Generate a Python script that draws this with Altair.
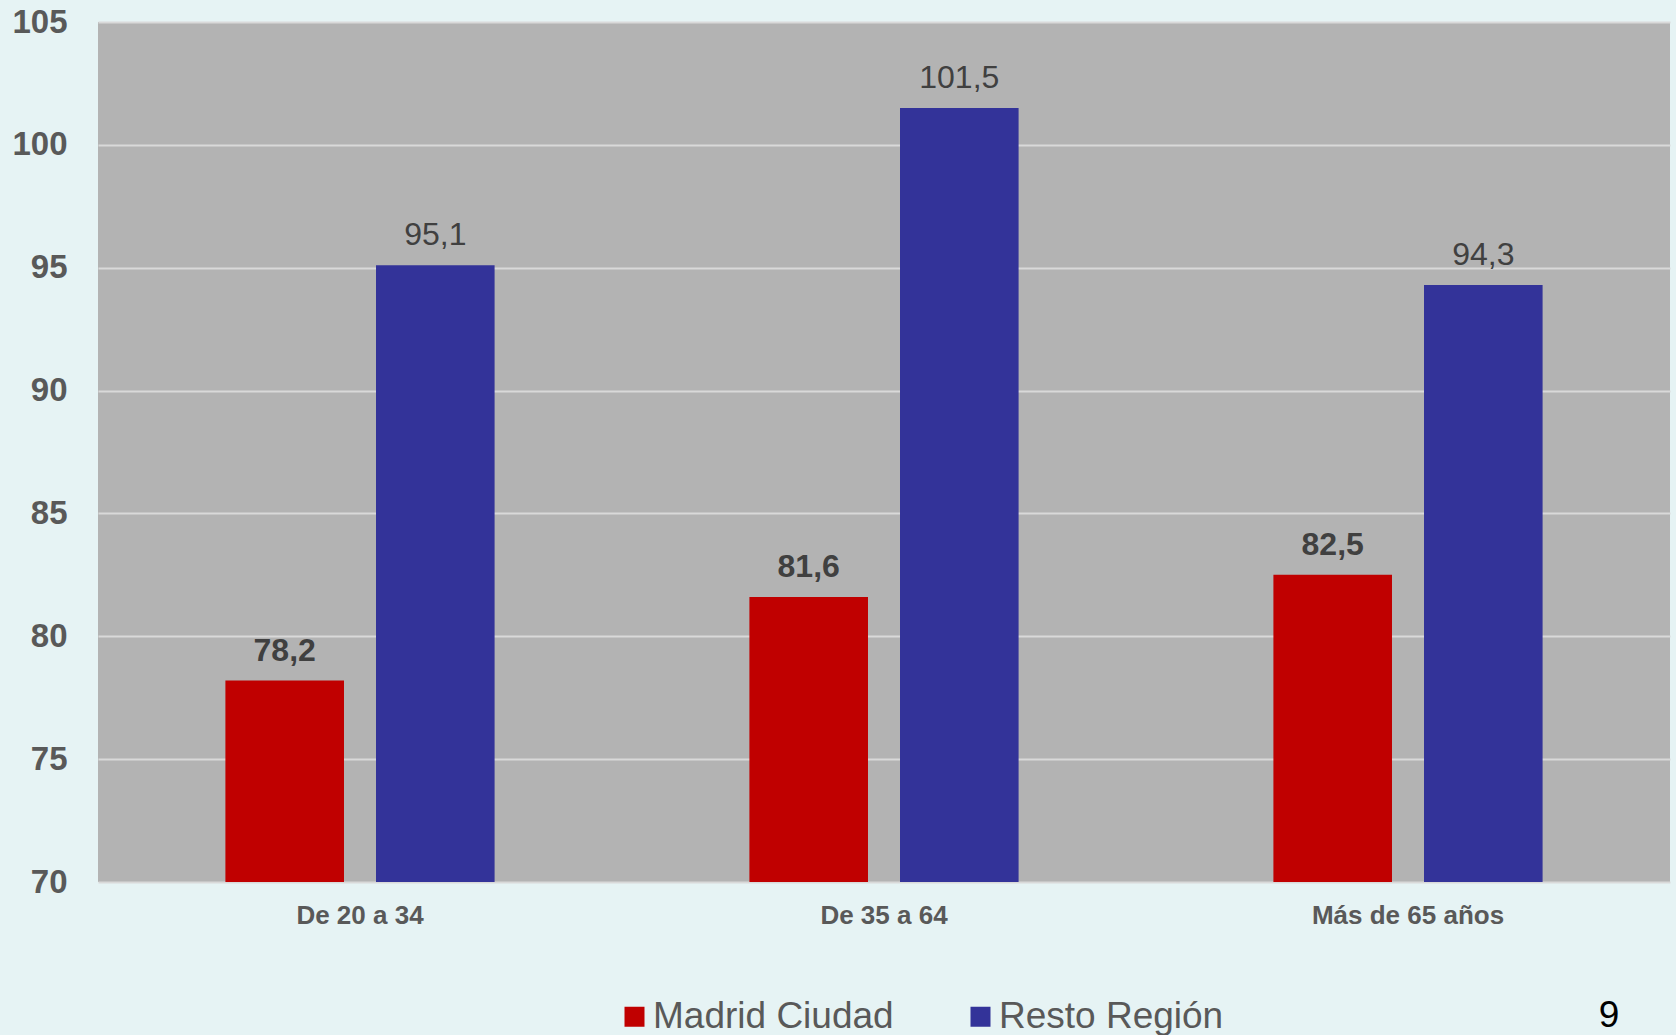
import altair as alt
import pandas as pd

categories = ["De 20 a 34", "De 35 a 64", "Más de 65 años"]
series_names = ["Madrid Ciudad", "Resto Región"]
madrid_values = [78.2, 81.6, 82.5]
resto_values = [95.1, 101.5, 94.3]
y_ticks = [70, 75, 80, 85, 90, 95, 100, 105]
series_colors = ["#C00000", "#333399"]
page_number = "9"

rows = []
for name, vals in zip(series_names, [madrid_values, resto_values]):
    for c, v in zip(categories, vals):
        rows.append({"cat": c, "serie": name, "valor": v,
                     "etiqueta": f"{v:.1f}".replace(".", ",")})
df = pd.DataFrame(rows)

FONT = "Liberation Sans"

x_enc = alt.X("cat:N", sort=categories,
              scale=alt.Scale(paddingInner=0, paddingOuter=0),
              axis=alt.Axis(title=None, labelAngle=0, labelFontSize=26,
                            labelFontWeight="bold", labelColor="#595959",
                            labelFont=FONT, ticks=False, domain=False,
                            labelPadding=20, grid=False, labelLimit=500))
xo_enc = alt.XOffset("serie:N", sort=series_names,
                     scale=alt.Scale(paddingInner=0.2125, paddingOuter=0.846))
y_scale = alt.Scale(domain=[70, 105], zero=False, nice=False)

bars = alt.Chart(df).mark_bar(clip=True).encode(
    x=x_enc,
    xOffset=xo_enc,
    y=alt.Y("valor:Q", scale=y_scale,
            axis=alt.Axis(title=None, values=y_ticks, labelFontSize=33,
                          labelFontWeight="bold", labelColor="#595959",
                          labelFont=FONT, ticks=False, domain=False,
                          labelPadding=31, gridColor="#D9D9D9",
                          gridWidth=2, gridOpacity=1)),
    color=alt.Color("serie:N", sort=series_names,
                    scale=alt.Scale(domain=series_names, range=series_colors),
                    legend=alt.Legend(title=None, orient="none", legendX=518,
                                      legendY=976, direction="horizontal",
                                      symbolType="square", symbolSize=400,
                                      symbolStrokeWidth=0, labelFontSize=37,
                                      labelFont=FONT, labelColor="#595959",
                                      columnPadding=68, labelOffset=0,
                                      labelLimit=400)),
)

def labels(serie, weight):
    return alt.Chart(df).transform_filter(
        alt.datum.serie == serie
    ).mark_text(baseline="alphabetic", dy=-20, fontSize=32, font=FONT,
                fontWeight=weight, color="#404040").encode(
        x=alt.X("cat:N", sort=categories),
        xOffset=alt.XOffset("serie:N", sort=series_names),
        y=alt.Y("valor:Q", scale=y_scale),
        text="etiqueta:N",
    )

page = alt.Chart(pd.DataFrame({"t": [page_number]})).mark_text(
    fontSize=37, font=FONT, color="#000000", baseline="middle", align="center"
).encode(text="t:N", x=alt.value(1511), y=alt.value(994))

chart = alt.layer(bars, labels(series_names[0], "bold"),
                  labels(series_names[1], "normal"), page).properties(
    width=1572, height=860,
    autosize=alt.AutoSizeParams(type="none"),
    padding={"left": 98, "top": 22, "right": 6, "bottom": 153},
    background="#E6F3F4",
).configure_view(fill="#B3B3B3", stroke=None)

chart.save("out.html", embed_options={"renderer": "svg", "actions": False})
